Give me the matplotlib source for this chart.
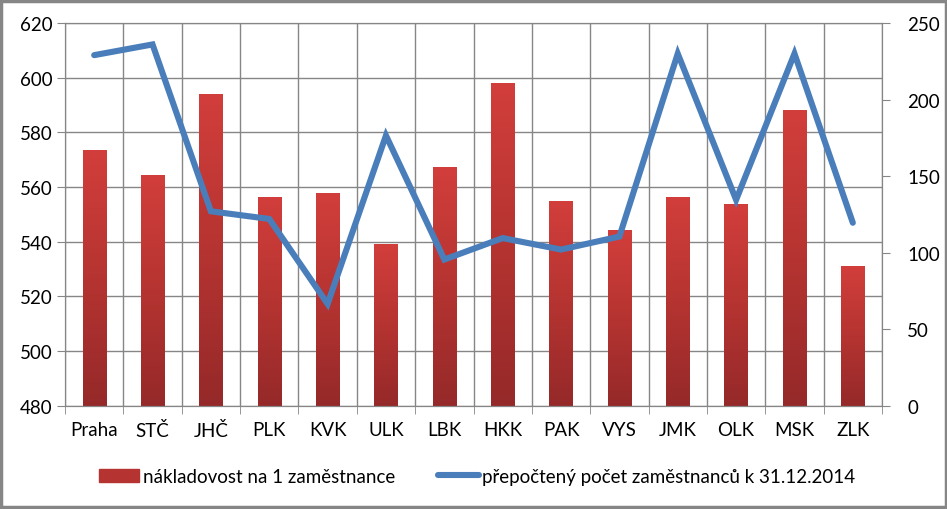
import matplotlib
matplotlib.use('Agg')
import matplotlib.pyplot as plt
import numpy as np
from matplotlib.colors import LinearSegmentedColormap
from matplotlib.patches import Rectangle

plt.rcParams['font.family'] = ['Lato', 'DejaVu Sans']

regions = ['Praha', 'STČ', 'JHČ', 'PLK', 'KVK', 'ULK', 'LBK', 'HKK', 'PAK', 'VYS', 'JMK', 'OLK', 'MSK', 'ZLK']
naklady = [573.5, 564.4, 594.0, 556.3, 557.8, 539.1, 567.3, 598.0, 554.9, 544.3, 556.3, 553.8, 588.2, 531.1]
zamestnanci = [229, 236, 127, 122, 66.5, 176.5, 95.5, 109.5, 102, 110.5, 230, 134.5, 230, 119.5]

label_bar = 'nákladovost na 1 zaměstnance'
label_line = 'přepočtený počet zaměstnanců k 31.12.2014'

grid_c = '#868686'
ymin, ymax = 480, 620
fs = 13.5

fig = plt.figure(figsize=(9.47, 5.10), dpi=100)
ax = fig.add_axes([65 / 947, 103.3 / 510, 817 / 947, 382.7 / 510])

x = np.arange(len(regions))
vals = np.array(naklady)
bars = ax.bar(x, vals - ymin, bottom=ymin, width=0.4, color='#c0392f', zorder=2)

# gradient fill inside each bar
cmap = LinearSegmentedColormap.from_list('redgrad', ['#952929', '#b53431', '#d23e3b'])
grad = np.linspace(0, 1, 256).reshape(-1, 1)
for b in bars:
    bx, by = b.get_x(), b.get_y()
    im = ax.imshow(grad, cmap=cmap, origin='lower', aspect='auto',
                   extent=[bx, bx + b.get_width(), by, by + b.get_height()], zorder=2.1)
    im.set_clip_path(b)

ax.set_xlim(-0.5, len(regions) - 0.5)
ax.set_ylim(ymin, ymax)
ax.set_yticks(np.arange(480, 621, 20))
ax.set_xticks(x)
ax.set_xticklabels(regions, fontsize=fs)
ax.set_xticks(np.arange(-0.5, len(regions), 1), minor=True)
ax.tick_params(axis='x', which='major', length=0, pad=11)
ax.tick_params(axis='x', which='minor', length=6, color=grid_c)
ax.tick_params(axis='y', length=6, color=grid_c, labelsize=fs, pad=3)
ax.grid(True, axis='y', color=grid_c, lw=1, zorder=0)
ax.grid(True, axis='x', which='minor', color=grid_c, lw=1, zorder=0)
ax.set_axisbelow(True)
for s in ax.spines.values():
    s.set_color(grid_c)

ax2 = ax.twinx()
ax2.plot(x, zamestnanci, color='#4a7ebb', lw=4.4, solid_capstyle='round', solid_joinstyle='miter', zorder=3)
ax2.set_ylim(0, 250)
ax2.set_yticks(np.arange(0, 251, 50))
ax2.tick_params(axis='y', length=6, color=grid_c, labelsize=fs, pad=12)
for s in ax2.spines.values():
    s.set_color(grid_c)

h1 = Rectangle((0, 0), 1, 1, color='#b53431')
h2, = ax2.plot([], [], color='#4a7ebb', lw=4.4, solid_capstyle='round')
fig.legend([h1, h2], [label_bar, label_line], loc='center', bbox_to_anchor=(0.504, 0.064),
           ncol=2, frameon=False, fontsize=fs, handlelength=2.15, handleheight=0.65,
           handletextpad=0.2, columnspacing=2.3)

fig.patches.append(Rectangle((0.0015, 0.003), 0.997, 0.994, transform=fig.transFigure,
                             fill=False, edgecolor=grid_c, lw=2.5))

plt.savefig('out.png', dpi=100)
